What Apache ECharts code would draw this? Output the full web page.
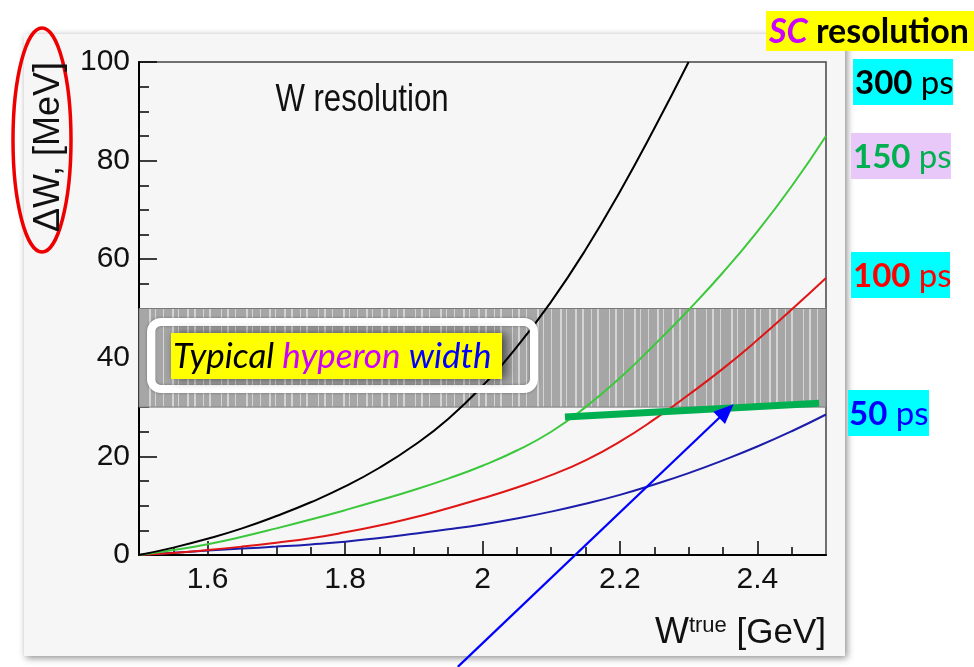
<!DOCTYPE html>
<html><head><meta charset="utf-8">
<script src="https://cdn.jsdelivr.net/npm/echarts@6/dist/echarts.min.js"></script>
<style>html,body{margin:0;padding:0;background:#fff}#c{width:974px;height:667px}</style>
</head><body><div id="c"></div>
<script>
// ---- data ----
const wTrue = [1.5,1.55,1.6,1.65,1.7,1.75,1.8,1.85,1.9,1.95,2.0,2.05,2.1,2.15,2.2,2.25,2.3,2.35,2.4,2.45,2.5];
const res300 = [0,1.5,3.3,5.4,7.9,10.7,13.9,17.7,22.2,27.6,34.3,42.2,51.4,61.9,73.7,86.5,100];
const res150 = [0,1.0,2.2,3.7,5.4,7.2,9.1,11.1,13.2,15.5,18.1,21.2,25.0,30.0,35.9,42.6,49.7,57.3,65.6,74.8,85.0];
const res100 = [0,0.4,1.0,1.7,2.5,3.4,4.6,6.0,7.6,9.5,11.5,13.7,16.2,19.2,23.0,27.5,32.5,37.8,43.6,49.8,56.2];
const res50  = [0,0.45,0.9,1.3,1.7,2.15,2.7,3.45,4.3,5.2,6.2,7.4,8.8,10.4,12.2,14.3,16.6,19.2,22.0,25.1,28.5];
const hyperonBand = [30, 50];
const highlightX = [2.12, 2.49];
const highlightY = [28.0, 30.8];
const arrowFrom = [1.964, -22.7];
const arrowTo = [2.355, 29.2];
const xTickValues = [1.6, 1.8, 2.0, 2.2, 2.4];
const xMinorValues = [1.55,1.65,1.7,1.75,1.85,1.9,1.95,2.05,2.1,2.15,2.25,2.3,2.35,2.45];
const resolutionLabels = ['300', '150', '100', '50'];

function pairs(xs, ys){ return ys.map((v,i)=>[xs[i], v]); }

// stripe texture for the band
const tex = document.createElement('canvas');
tex.width = 97; tex.height = 8;
(function(){
  const g = tex.getContext('2d');
  g.fillStyle = '#a6a6a6'; g.fillRect(0,0,97,8);
  g.fillStyle = '#d4d4d4';
  const off = [0,9,15,27,33,41,52,58,66,75,81,90];
  const wd  = [2,1,2,1,2,1,2,1,1,2,1,2];
  off.forEach((o,i)=>g.fillRect(o,0,wd[i],8));
})();

const FONT = 'Liberation Sans, Arial, sans-serif';
const CAL = 'Lato, Open Sans, sans-serif';

const chart = echarts.init(document.getElementById('c'), null, {renderer:'canvas'});
const lineS = (name, data, color) => ({
  type:'line', name, data, smooth:0.5, symbol:'none', z:3,
  lineStyle:{color, width:2}, itemStyle:{color}
});

chart.setOption({
  animation:false,
  backgroundColor:'#ffffff',
  grid:{left:139, top:62, width:687, height:493, show:true, borderColor:'#444', borderWidth:1.5, backgroundColor:'transparent'},
  xAxis:[{
    type:'value', min:1.5, max:2.5, position:'bottom',
    axisLine:{show:true, onZero:false, lineStyle:{color:'#000', width:2}},
    axisTick:{show:true, inside:true, length:14, lineStyle:{color:'#000', width:1.5}, customValues:xTickValues},
    axisLabel:{customValues:xTickValues, fontSize:30, fontFamily:FONT, color:'#111', margin:10,
      formatter:v=>String(+(+v).toFixed(1))},
    splitLine:{show:false}
  },{
    type:'value', min:1.5, max:2.5, position:'bottom',
    axisLine:{show:false},
    axisTick:{show:true, inside:true, length:8, lineStyle:{color:'#000', width:1.5}, customValues:xMinorValues},
    axisLabel:{show:false}, splitLine:{show:false}
  }],
  yAxis:{
    type:'value', min:0, max:100, interval:20,
    axisLine:{show:true, lineStyle:{color:'#000', width:2}},
    axisTick:{show:true, inside:true, length:18, lineStyle:{color:'#000', width:1.5}},
    minorTick:{show:true, splitNumber:4, length:10, lineStyle:{color:'#000', width:1.5}},
    axisLabel:{fontSize:30, fontFamily:FONT, color:'#111', margin:9},
    splitLine:{show:false}
  },
  series:[
    Object.assign(lineS('50 ps', pairs(wTrue,res50), '#1c1caa'), {
      markArea:{silent:true, itemStyle:{color:{image:tex, repeat:'repeat'}, borderColor:'#7a7a7a', borderWidth:1},
        data:[[{yAxis:hyperonBand[0]},{yAxis:hyperonBand[1]}]]}
    }),
    lineS('100 ps', pairs(wTrue,res100), '#e01515'),
    lineS('150 ps', pairs(wTrue,res150), '#3cc83c'),
    lineS('300 ps', pairs(wTrue,res300), '#000000'),
    {type:'line', data:pairs(highlightX, highlightY), symbol:'none', z:6,
      lineStyle:{color:'#00b050', width:7, cap:'butt'}},
    {type:'lines', coordinateSystem:'cartesian2d', clip:false, z:7,
      symbol:['none','triangle'], symbolSize:[0,[17,20]],
      lineStyle:{color:'#0000ff', width:2.2, opacity:1},
      data:[{coords:[arrowFrom, arrowTo]}]}
  ],
  graphic:[
    {type:'rect', z:-10, shape:{x:24,y:34,width:821,height:622},
      style:{fill:'#f6f6f6', shadowBlur:7, shadowColor:'rgba(0,0,0,0.45)', shadowOffsetX:2, shadowOffsetY:2}},
    {type:'ellipse', z:20, shape:{cx:42, cy:140, rx:29, ry:112},
      style:{fill:null, stroke:'#ee0000', lineWidth:3.5}},
    {type:'text', z:20, x:49, y:147, rotation:Math.PI/2,
      style:{text:'ΔW, [MeV]', align:'center', verticalAlign:'middle', fontSize:36, fontFamily:FONT, fill:'#111'}},
    {type:'text', z:20, x:362, y:101, scaleX:0.82,
      style:{text:'W resolution', align:'center', verticalAlign:'middle', fontSize:38, fontFamily:FONT, fill:'#111'}},
    {type:'text', z:20, x:826, y:633,
      style:{text:'{w|W}{s|true} {g|[GeV]}', align:'right', verticalAlign:'middle', fill:'#111', fontFamily:FONT, fontSize:35,
        rich:{w:{fontSize:36, fontFamily:FONT, fill:'#111', verticalAlign:'bottom'},
              s:{fontSize:22, fontFamily:FONT, fill:'#111', verticalAlign:'top'},
              g:{fontSize:35, fontFamily:FONT, fill:'#111', verticalAlign:'bottom'}}}},
    // hyperon label
    {type:'rect', z:20, shape:{x:151,y:322,width:383,height:67,r:10},
      style:{fill:null, stroke:'#ffffff', lineWidth:8, shadowBlur:3, shadowColor:'rgba(0,0,0,0.35)'}},
    {type:'rect', z:21, shape:{x:171,y:333,width:331,height:46},
      style:{fill:'#ffff00', shadowBlur:10, shadowColor:'rgba(0,0,0,0.6)', shadowOffsetX:4}},
    {type:'text', z:22, x:173, y:357,
      style:{text:'{a|Typical} {b|hyperon} {c|width}', align:'left', verticalAlign:'middle',
        fontSize:35, fontStyle:'italic', fontFamily:CAL, fill:'#000',
        rich:{a:{fill:'#000', fontSize:35, fontStyle:'italic', fontFamily:CAL},
              b:{fill:'#cc00ff', fontSize:35, fontStyle:'italic', fontFamily:CAL},
              c:{fill:'#0000ff', fontSize:35, fontStyle:'italic', fontFamily:CAL}}}},
    // right labels
    {type:'rect', z:20, shape:{x:766,y:11,width:208,height:40}, style:{fill:'#ffff00'}},
    {type:'text', z:21, x:769, y:32,
      style:{text:'{m|SC} {k|resolution}', align:'left', verticalAlign:'middle', fontSize:34, fontWeight:'bold', fontFamily:CAL, fill:'#000',
        rich:{m:{fill:'#cc00ff', fontSize:34, fontWeight:'bold', fontStyle:'italic', fontFamily:CAL},
              k:{fill:'#000', fontSize:34, fontWeight:'bold', fontFamily:CAL}}}},
    {type:'rect', z:20, shape:{x:853,y:59,width:100,height:46}, style:{fill:'#00ffff'}},
    {type:'text', z:21, x:855, y:83,
      style:{text:'{b|'+resolutionLabels[0]+'} ps', align:'left', verticalAlign:'middle', fontSize:33, fontFamily:CAL, fill:'#000',
        rich:{b:{fontWeight:'bold', fontSize:33, fontFamily:CAL, fill:'#000'}}}},
    {type:'rect', z:20, shape:{x:851,y:133,width:100,height:46}, style:{fill:'#e8c8f8'}},
    {type:'text', z:21, x:853, y:157,
      style:{text:'{b|'+resolutionLabels[1]+'} ps', align:'left', verticalAlign:'middle', fontSize:33, fontFamily:CAL, fill:'#00b050',
        rich:{b:{fontWeight:'bold', fontSize:33, fontFamily:CAL, fill:'#00b050'}}}},
    {type:'rect', z:20, shape:{x:851,y:252,width:99,height:46}, style:{fill:'#00ffff'}},
    {type:'text', z:21, x:853, y:276,
      style:{text:'{b|'+resolutionLabels[2]+'} ps', align:'left', verticalAlign:'middle', fontSize:33, fontFamily:CAL, fill:'#ff0000',
        rich:{b:{fontWeight:'bold', fontSize:33, fontFamily:CAL, fill:'#ff0000'}}}},
    {type:'rect', z:20, shape:{x:848,y:390,width:81,height:46}, style:{fill:'#00ffff'}},
    {type:'text', z:21, x:849, y:414,
      style:{text:'{b|'+resolutionLabels[3]+'} ps', align:'left', verticalAlign:'middle', fontSize:33, fontFamily:CAL, fill:'#0000ff',
        rich:{b:{fontWeight:'bold', fontSize:33, fontFamily:CAL, fill:'#0000ff'}}}}
  ]
});
</script></body></html>
